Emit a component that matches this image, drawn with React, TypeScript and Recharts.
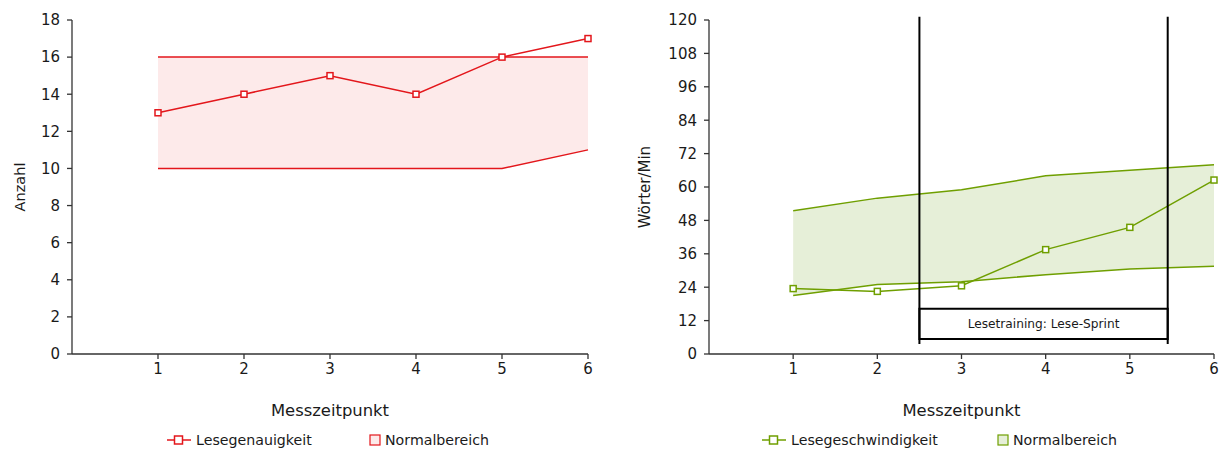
import React from 'react';
import {
  ComposedChart,
  Line,
  Area,
  XAxis,
  YAxis,
  Legend,
  ReferenceLine,
  ReferenceArea,
} from 'recharts';

const zeitpunkte = [1, 2, 3, 4, 5, 6];

const genauigkeit = [13, 14, 15, 14, 16, 17];
const genauigkeitNormUnten = [10, 10, 10, 10, 10, 11];
const genauigkeitNormOben = [16, 16, 16, 16, 16, 16];

const geschwindigkeit = [23.5, 22.5, 24.5, 37.5, 45.5, 62.5];
const geschwNormUnten = [21, 25, 26, 28.5, 30.5, 31.5];
const geschwNormOben = [51.5, 56, 59, 64, 66, 68];

const ticksX = [1, 2, 3, 4, 5, 6];
const ticksAnzahl = [0, 2, 4, 6, 8, 10, 12, 14, 16, 18];
const ticksWoerter = [0, 12, 24, 36, 48, 60, 72, 84, 96, 108, 120];

// training phase
const trainingStart = 2.5;
const trainingEnde = 5.45;
const trainingLabel = 'Lesetraining: Lese-Sprint';

const RED = '#e3161b';
const PINK = '#fdeaea';
const GREEN = '#6f9f00';
const LIGHTGREEN = '#e6efd8';
const AXIS = '#333';
const FONT = '"DejaVu Sans", Verdana, sans-serif';

const genauigkeitData = zeitpunkte.map((x, i) => ({
  x,
  wert: genauigkeit[i],
  unten: genauigkeitNormUnten[i],
  oben: genauigkeitNormOben[i],
  band: [genauigkeitNormUnten[i], genauigkeitNormOben[i]],
}));

const geschwData = zeitpunkte.map((x, i) => ({
  x,
  wert: geschwindigkeit[i],
  unten: geschwNormUnten[i],
  oben: geschwNormOben[i],
  band: [geschwNormUnten[i], geschwNormOben[i]],
}));

const squareDot = (color: string) => (props: any) => {
  const { cx, cy, index } = props;
  if (cx == null || cy == null) return <g key={index} />;
  return (
    <rect
      key={index}
      x={cx - 3}
      y={cy - 3}
      width={6}
      height={6}
      fill="#fff"
      stroke={color}
      strokeWidth={1.5}
    />
  );
};

const yLabel = (text: string, dx: number, size: number) => (props: any) => {
  const { viewBox } = props;
  const cx = viewBox.x + dx;
  const cy = viewBox.y + viewBox.height / 2;
  return (
    <text
      x={cx}
      y={cy}
      transform={`rotate(-90 ${cx} ${cy})`}
      textAnchor="middle"
      dominantBaseline="central"
      fontSize={size}
      fill="#1a1a1a"
      fontFamily={FONT}
    >
      {text}
    </text>
  );
};

const xLabel = (props: any) => {
  const { viewBox } = props;
  return (
    <text
      x={viewBox.x + viewBox.width / 2}
      y={viewBox.y + 56}
      textAnchor="middle"
      dominantBaseline="central"
      fontSize={16.4}
      fill="#1a1a1a"
      fontFamily={FONT}
    >
      Messzeitpunkt
    </text>
  );
};

const LegendBox = ({
  color,
  fill,
  lineLeft,
  lineText,
  bandLeft,
  bandText,
}: {
  color: string;
  fill: string;
  lineLeft: number;
  lineText: string;
  bandLeft: number;
  bandText: string;
}) => (
  <div style={{ position: 'relative', height: 20, fontFamily: FONT, fontSize: 14.2, color: '#1a1a1a' }}>
    <svg style={{ position: 'absolute', left: lineLeft, top: 4 }} width={24} height={12}>
      <line x1={0} y1={6} x2={24} y2={6} stroke={color} strokeWidth={1.5} />
      <rect x={7.5} y={2} width={8} height={8} fill="#fff" stroke={color} strokeWidth={1.5} />
    </svg>
    <span style={{ position: 'absolute', left: lineLeft + 29, top: 0, lineHeight: '20px', whiteSpace: 'nowrap' }}>
      {lineText}
    </span>
    <svg style={{ position: 'absolute', left: bandLeft, top: 4 }} width={12} height={12}>
      <rect x={1} y={1} width={10} height={10} fill={fill} stroke={color} strokeWidth={1.2} />
    </svg>
    <span style={{ position: 'absolute', left: bandLeft + 16, top: 0, lineHeight: '20px', whiteSpace: 'nowrap' }}>
      {bandText}
    </span>
  </div>
);

const tickStyle = { fontSize: 15, fill: '#1a1a1a', fontFamily: FONT };

const GenauigkeitChart = () => (
  <ComposedChart
    width={614}
    height={442}
    data={genauigkeitData}
    margin={{ top: 12, right: 34, bottom: 0, left: 14 }}
  >
    <XAxis
      dataKey="x"
      type="number"
      domain={[0, 6]}
      ticks={ticksX}
      tickSize={5}
      tickMargin={4}
      height={76}
      stroke={AXIS}
      strokeWidth={1.3}
      tick={tickStyle}
      label={{ content: xLabel }}
    />
    <YAxis
      type="number"
      domain={[0, 18]}
      ticks={ticksAnzahl}
      tickSize={5}
      tickMargin={7}
      width={50}
      stroke={AXIS}
      strokeWidth={1.3}
      tick={tickStyle}
      label={{ content: yLabel('Anzahl', -2, 14.5) }}
    />
    <Area dataKey="band" stroke="none" fill={PINK} fillOpacity={1} isAnimationActive={false} />
    <Line dataKey="unten" stroke={RED} strokeWidth={1.5} dot={false} isAnimationActive={false} />
    <Line dataKey="oben" stroke={RED} strokeWidth={1.5} dot={false} isAnimationActive={false} />
    <Line
      dataKey="wert"
      stroke={RED}
      strokeWidth={1.5}
      dot={squareDot(RED)}
      isAnimationActive={false}
    />
    <Legend
      verticalAlign="bottom"
      content={() => (
        <LegendBox
          color={RED}
          fill={PINK}
          lineLeft={145}
          lineText="Lesegenauigkeit"
          bandLeft={347}
          bandText="Normalbereich"
        />
      )}
    />
  </ComposedChart>
);

const GeschwChart = () => (
  <ComposedChart
    width={598}
    height={442}
    data={geschwData}
    margin={{ top: 12, right: 6, bottom: 0, left: 27 }}
  >
    <XAxis
      dataKey="x"
      type="number"
      domain={[0, 6]}
      ticks={ticksX}
      tickSize={5}
      tickMargin={4}
      height={76}
      stroke={AXIS}
      strokeWidth={1.3}
      tick={tickStyle}
      label={{ content: xLabel }}
    />
    <YAxis
      type="number"
      domain={[0, 120]}
      ticks={ticksWoerter}
      tickSize={5}
      tickMargin={7}
      width={60}
      stroke={AXIS}
      strokeWidth={1.3}
      tick={tickStyle}
      label={{ content: yLabel('Wörter/Min', -4, 15) }}
    />
    <Area dataKey="band" stroke="none" fill={LIGHTGREEN} fillOpacity={1} isAnimationActive={false} />
    <Line dataKey="unten" stroke={GREEN} strokeWidth={1.5} dot={false} isAnimationActive={false} />
    <Line dataKey="oben" stroke={GREEN} strokeWidth={1.5} dot={false} isAnimationActive={false} />
    <Line
      dataKey="wert"
      stroke={GREEN}
      strokeWidth={1.5}
      dot={squareDot(GREEN)}
      isAnimationActive={false}
    />
    <ReferenceArea
      x1={trainingStart}
      x2={trainingEnde}
      y1={5.4}
      y2={16.3}
      fill="none"
      stroke="#000"
      strokeWidth={2}
      fillOpacity={0}
      ifOverflow="visible"
      label={{ value: trainingLabel, position: 'center', fontSize: 12.2, fill: '#1a1a1a', fontFamily: FONT }}
    />
    <ReferenceLine
      segment={[
        { x: trainingStart, y: 3.6 },
        { x: trainingStart, y: 121.2 },
      ]}
      stroke="#000"
      strokeWidth={2}
      ifOverflow="visible"
    />
    <ReferenceLine
      segment={[
        { x: trainingEnde, y: 3.6 },
        { x: trainingEnde, y: 121.2 },
      ]}
      stroke="#000"
      strokeWidth={2}
      ifOverflow="visible"
    />
    <Legend
      verticalAlign="bottom"
      content={() => (
        <LegendBox
          color={GREEN}
          fill={LIGHTGREEN}
          lineLeft={113}
          lineText="Lesegeschwindigkeit"
          bandLeft={348}
          bandText="Normalbereich"
        />
      )}
    />
  </ComposedChart>
);

export default function App() {
  return (
    <div style={{ display: 'flex', width: 1212, height: 442, background: '#fff' }}>
      <GenauigkeitChart />
      <GeschwChart />
    </div>
  );
}
